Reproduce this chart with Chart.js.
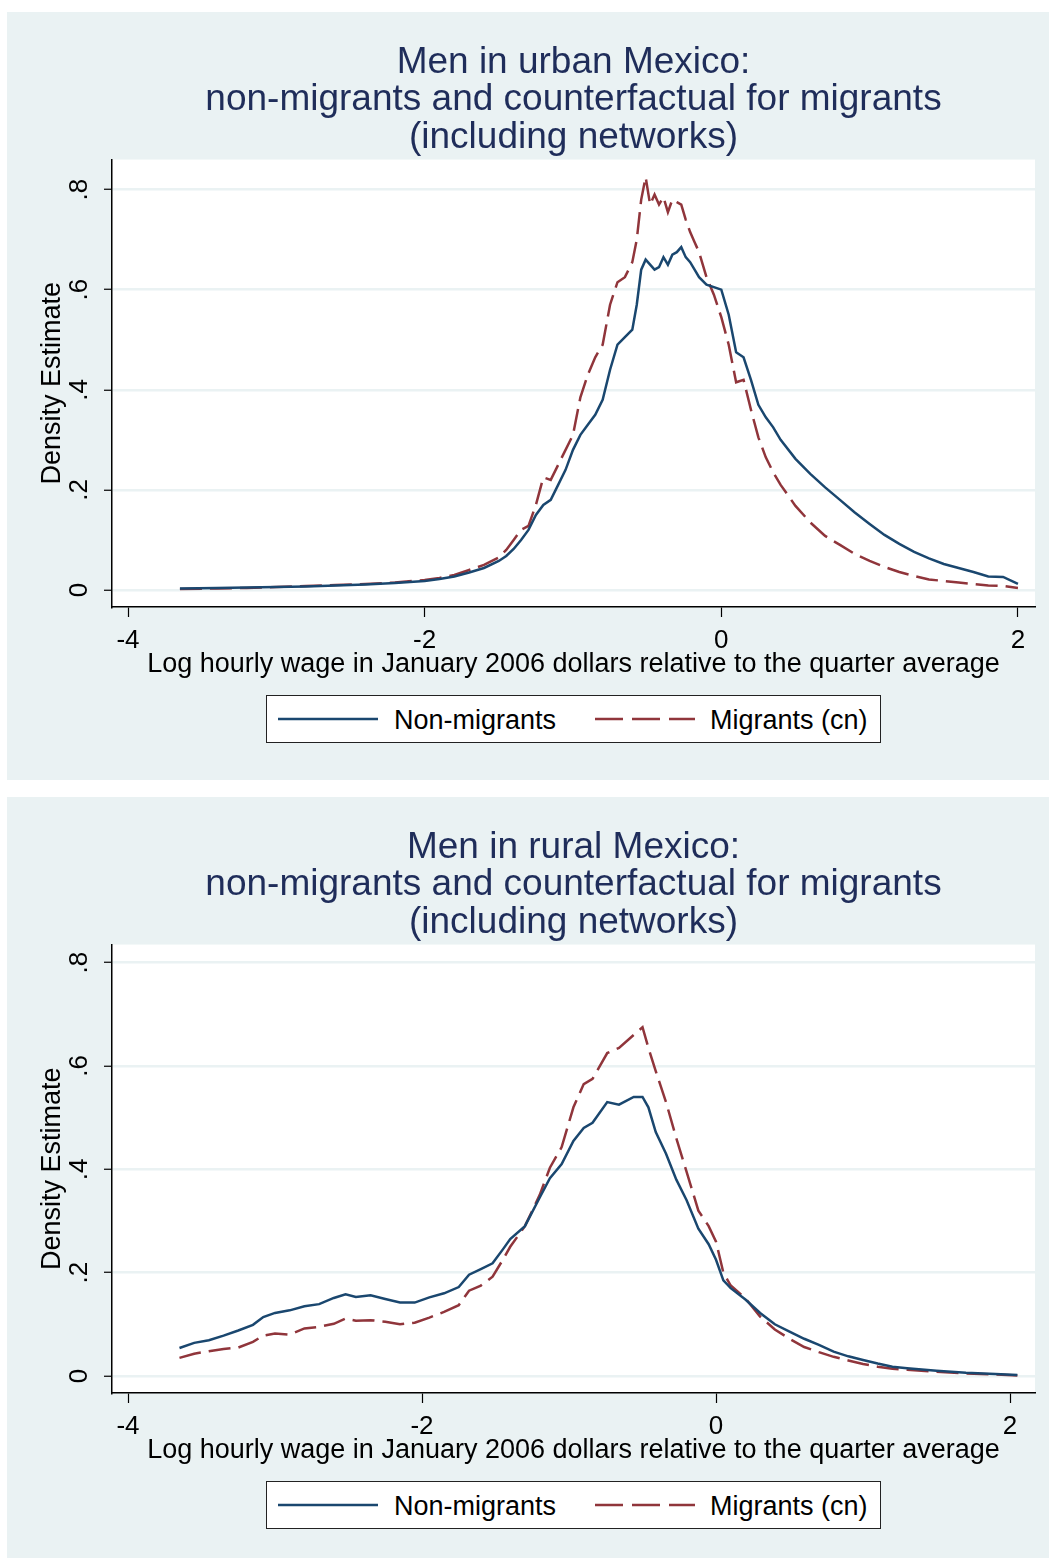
<!DOCTYPE html>
<html>
<head>
<meta charset="utf-8">
<script src="https://cdn.jsdelivr.net/npm/chart.js@4.4.0/dist/chart.umd.min.js"></script>
<style>
  body { margin: 0; background: #ffffff; font-family: "Liberation Sans", Arial, sans-serif; }
  .panel { position: absolute; left: 7px; width: 1042px; background: #eaf2f3; }
  .legend { position: absolute; left: 259px; width: 613px; height: 46px; background: #fff;
            border: 1px solid #222; font-size: 27px; color: #000; }
  .legend svg { position: absolute; top: 0; }
  .legend span { position: absolute; top: 9px; }
</style>
</head>
<body>

<div class="panel" id="p1" style="top:12px;height:768px">
  <canvas id="urbanChart" width="1042" height="768"></canvas>
  <div class="legend" style="top:683px">
    <svg style="left:10px" width="104" height="46"><line x1="1" y1="23" x2="101" y2="23" stroke="#1a476f" stroke-width="2.5"/></svg>
    <span style="left:127px">Non-migrants</span>
    <svg style="left:327px" width="104" height="46"><line x1="1" y1="23" x2="101" y2="23" stroke="#90353b" stroke-width="2.5" stroke-dasharray="28 9"/></svg>
    <span style="left:443px">Migrants (cn)</span>
  </div>
</div>

<div class="panel" id="p2" style="top:797px;height:761px">
  <canvas id="ruralChart" width="1042" height="761"></canvas>
  <div class="legend" style="top:684px">
    <svg style="left:10px" width="104" height="46"><line x1="1" y1="23" x2="101" y2="23" stroke="#1a476f" stroke-width="2.5"/></svg>
    <span style="left:127px">Non-migrants</span>
    <svg style="left:327px" width="104" height="46"><line x1="1" y1="23" x2="101" y2="23" stroke="#90353b" stroke-width="2.5" stroke-dasharray="28 9"/></svg>
    <span style="left:443px">Migrants (cn)</span>
  </div>
</div>

<script>
// titles
var urbanTitle = ["Men in urban Mexico:", "non-migrants and counterfactual for migrants", "(including networks)"];
var ruralTitle = ["Men in rural Mexico:", "non-migrants and counterfactual for migrants", "(including networks)"];
var xTitle = "Log hourly wage in January 2006 dollars relative to the quarter average";
var yTitle = "Density Estimate";

// ticks
var xTicks = [-4, -2, 0, 2];
var yTicks = [0, 0.2, 0.4, 0.6, 0.8];

// urban
var urbanX = [-3.65, -3.4, -3.2, -3.0, -2.8, -2.6, -2.4, -2.2, -2.0, -1.9, -1.8, -1.7, -1.6, -1.5, -1.45,
  -1.4, -1.35, -1.3, -1.25, -1.2, -1.15, -1.1, -1.05, -1.0, -0.95, -0.9, -0.85, -0.8, -0.75, -0.7,
  -0.65, -0.6, -0.57, -0.54, -0.51, -0.48, -0.45, -0.42, -0.39, -0.36, -0.33, -0.3, -0.27, -0.24,
  -0.21, -0.18, -0.15, -0.1, -0.05, 0, 0.05, 0.1, 0.15, 0.2, 0.25, 0.3, 0.35, 0.4, 0.5, 0.6, 0.7,
  0.8, 0.9, 1.0, 1.1, 1.2, 1.3, 1.4, 1.5, 1.6, 1.7, 1.8, 1.9, 2.0];
var urbanNon = [0.003, 0.004, 0.005, 0.006, 0.007, 0.009, 0.011, 0.014, 0.018, 0.022, 0.027, 0.035, 0.044, 0.058, 0.068,
  0.082, 0.10, 0.12, 0.15, 0.17, 0.18, 0.21, 0.24, 0.28, 0.31, 0.33, 0.35, 0.38, 0.44, 0.49,
  0.505, 0.52, 0.57, 0.64, 0.66, 0.65, 0.64, 0.645, 0.665, 0.65, 0.67, 0.675, 0.685, 0.665,
  0.655, 0.64, 0.625, 0.61, 0.605, 0.60, 0.55, 0.475, 0.465, 0.42, 0.37, 0.345, 0.325, 0.30, 0.262, 0.232, 0.205,
  0.18, 0.155, 0.132, 0.11, 0.092, 0.076, 0.063, 0.052, 0.044, 0.036, 0.027, 0.026, 0.012];
var urbanMig = [0.002, 0.003, 0.004, 0.006, 0.008, 0.010, 0.012, 0.015, 0.020, 0.024, 0.030, 0.040, 0.050, 0.065, 0.080,
  0.10, 0.12, 0.128, 0.17, 0.225, 0.22, 0.25, 0.28, 0.31, 0.385, 0.43, 0.465, 0.49, 0.57, 0.615,
  0.625, 0.655, 0.70, 0.78, 0.825, 0.77, 0.79, 0.77, 0.785, 0.755, 0.78, 0.775, 0.77, 0.74,
  0.715, 0.695, 0.675, 0.625, 0.59, 0.545, 0.49, 0.415, 0.42, 0.36, 0.305, 0.265, 0.235, 0.21, 0.168, 0.135, 0.108,
  0.09, 0.072, 0.058, 0.046, 0.036, 0.028, 0.021, 0.018, 0.015, 0.012, 0.009, 0.008, 0.004];

// rural
var ruralX = [-3.65, -3.55, -3.45, -3.35, -3.25, -3.15, -3.08, -3.0, -2.9, -2.8, -2.7, -2.6, -2.52, -2.45,
  -2.35, -2.25, -2.15, -2.05, -1.95, -1.85, -1.75, -1.68, -1.6, -1.52, -1.45, -1.4, -1.3, -1.2, -1.13,
  -1.05, -0.97, -0.9, -0.84, -0.74, -0.66, -0.56, -0.5, -0.46, -0.41, -0.34, -0.27, -0.2, -0.12, -0.05,
  0, 0.05, 0.1, 0.2, 0.3, 0.4, 0.5, 0.6, 0.7, 0.8, 0.9, 1.0, 1.1, 1.2, 1.3, 1.5, 1.7, 1.9, 2.05];
var ruralNon = [0.054, 0.064, 0.069, 0.078, 0.088, 0.099, 0.114, 0.122, 0.127, 0.135, 0.139, 0.151, 0.158, 0.153,
  0.156, 0.149, 0.142, 0.142, 0.152, 0.16, 0.172, 0.196, 0.207, 0.218, 0.245, 0.265, 0.29, 0.345, 0.383,
  0.41, 0.455, 0.48, 0.49, 0.53, 0.525, 0.54, 0.54, 0.52, 0.472, 0.43, 0.38, 0.34, 0.285, 0.255,
  0.225, 0.185, 0.17, 0.148, 0.122, 0.10, 0.086, 0.072, 0.06, 0.047, 0.038, 0.031, 0.024, 0.018, 0.015, 0.010, 0.006, 0.004, 0.002];
var ruralMig = [0.035, 0.043, 0.048, 0.052, 0.055, 0.066, 0.078, 0.082, 0.080, 0.092, 0.095, 0.101, 0.111, 0.107,
  0.108, 0.105, 0.100, 0.103, 0.113, 0.124, 0.137, 0.165, 0.175, 0.192, 0.225, 0.25, 0.29, 0.35, 0.403,
  0.443, 0.52, 0.565, 0.575, 0.625, 0.635, 0.66, 0.675, 0.635, 0.59, 0.53, 0.46, 0.395, 0.32, 0.29,
  0.26, 0.20, 0.175, 0.15, 0.115, 0.09, 0.072, 0.056, 0.046, 0.037, 0.030, 0.023, 0.018, 0.014, 0.012, 0.008, 0.005, 0.003, 0.001];

var navy = "#1a476f";
var maroon = "#90353b";
var bgGray = "#eaf2f3";
var fontName = "'Liberation Sans', Arial, sans-serif";

function pairs(xs, ys) {
  var out = [];
  for (var i = 0; i < xs.length; i++) out.push({ x: xs[i], y: ys[i] });
  return out;
}

// white plot region
var plotBg = {
  id: "plotBg",
  beforeDraw: function (chart) {
    var a = chart.chartArea;
    var ctx = chart.ctx;
    ctx.save();
    ctx.fillStyle = "#ffffff";
    ctx.fillRect(a.left, a.top, a.right - a.left, a.bottom - a.top);
    ctx.restore();
  }
};

function drawPanel(id, title, xs, non, mig, xr, yr, padBottom) {
  var ctx = document.getElementById(id).getContext("2d");
  new Chart(ctx, {
    type: "line",
    data: {
      datasets: [
        { label: "Non-migrants", data: pairs(xs, non), borderColor: navy, borderWidth: 2.5,
          pointRadius: 0, tension: 0, fill: false },
        { label: "Migrants (cn)", data: pairs(xs, mig), borderColor: maroon, borderWidth: 2.5,
          borderDash: [22, 8], pointRadius: 0, tension: 0, fill: false }
      ]
    },
    options: {
      responsive: false,
      animation: false,
      devicePixelRatio: 1,
      layout: { padding: { left: 0, right: 14, top: 0, bottom: padBottom } },
      plugins: {
        legend: { display: false },
        tooltip: { enabled: false },
        title: {
          display: true,
          fullSize: false,
          text: title,
          color: "#1f2d5a",
          font: { family: fontName, size: 37, weight: "normal", lineHeight: 1.014 },
          padding: { top: 32, bottom: 3 }
        }
      },
      scales: {
        x: {
          type: "linear",
          min: xr[0],
          max: xr[1],
          afterFit: function (s) { s.height = 72; },
          afterBuildTicks: function (s) { s.ticks = xTicks.map(function (v) { return { value: v }; }); },
          grid: { drawOnChartArea: false, tickLength: 10, tickColor: "#000", tickWidth: 1.2 },
          border: { color: "#000", width: 1.5 },
          ticks: { color: "#000", padding: 8, maxRotation: 0, font: { family: fontName, size: 26 },
            callback: function (v) { return String(v); } },
          title: { display: true, text: xTitle, color: "#000", padding: 0,
            font: { family: fontName, size: 27, lineHeight: 1.1 } }
        },
        y: {
          type: "linear",
          min: yr[0],
          max: yr[1],
          afterFit: function (s) { s.width = 105; },
          afterBuildTicks: function (s) { s.ticks = yTicks.map(function (v) { return { value: v }; }); },
          grid: { color: bgGray, lineWidth: 2.5, tickLength: 8, tickColor: "#000", tickWidth: 1.2 },
          border: { color: "#000", width: 1.5 },
          ticks: { color: "#000", padding: 13, minRotation: 90, maxRotation: 90, crossAlign: "center",
            font: { family: fontName, size: 26 },
            callback: function (v) { return v === 0 ? "0" : v.toFixed(1).replace(/^0/, ""); } },
          title: { display: true, text: yTitle, color: "#000", padding: { top: 31, bottom: 0 },
            font: { family: fontName, size: 27, lineHeight: 1.1 } }
        }
      }
    },
    plugins: [plotBg]
  });
}

drawPanel("urbanChart", urbanTitle, urbanX, urbanNon, urbanMig, [-4.108, 2.115], [-0.034, 0.86], 101);
drawPanel("ruralChart", ruralTitle, ruralX, ruralNon, ruralMig, [-4.109, 2.17], [-0.033, 0.835], 93);
</script>
</body>
</html>
